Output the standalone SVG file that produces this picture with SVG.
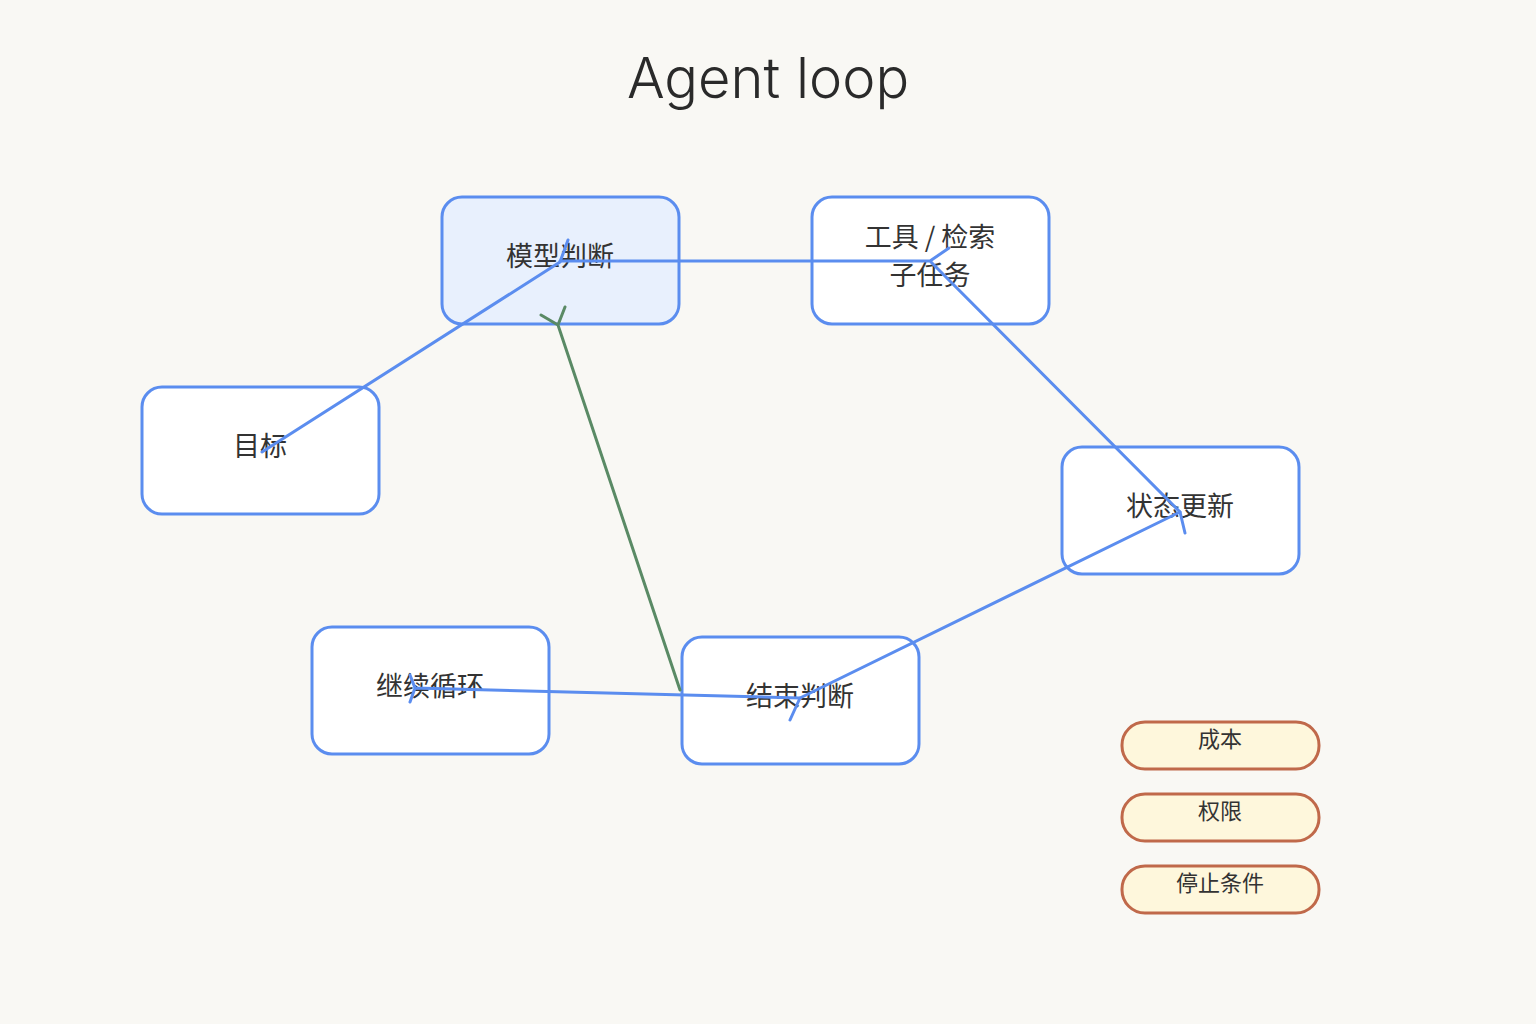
<svg xmlns="http://www.w3.org/2000/svg" width="1536" height="1024" viewBox="0 0 1536 1024">
<style>
.n{fill:#fff;stroke:#5b8def;stroke-width:3}
.t{font-family:"Noto Sans CJK SC","Liberation Sans",sans-serif;font-size:27px;fill:#333;text-anchor:middle}
.p{fill:#fef7dc;stroke:#c0694a;stroke-width:3}
.pt{font-family:"Noto Sans CJK SC","Liberation Sans",sans-serif;font-size:22px;fill:#333;text-anchor:middle}
.c{fill:none;stroke:#5b8def;stroke-width:3;stroke-linecap:round}
.g{fill:none;stroke:#5a8a65;stroke-width:3;stroke-linecap:round}
</style>
<rect width="1536" height="1024" fill="#f9f8f4"/>
<text x="768" y="98" font-family="Inter,'Liberation Sans',sans-serif" font-weight="300" font-size="56" fill="#2a2a2a" text-anchor="middle">Agent loop</text>
<g id="n-model"><rect class="n" x="442" y="197" width="237" height="127" rx="20" style="fill:#e8f0fd"/><text class="t" x="560" y="266">模型判断</text></g>
<g id="n-tool"><rect class="n" x="812" y="197" width="237" height="127" rx="20"/><text class="t" x="930" y="247">工具 / 检索</text><text class="t" x="930" y="285">子任务</text></g>
<g id="n-goal"><rect class="n" x="142" y="387" width="237" height="127" rx="20"/><text class="t" x="260" y="456">目标</text></g>
<g id="n-state"><rect class="n" x="1062" y="447" width="237" height="127" rx="20"/><text class="t" x="1180" y="516">状态更新</text></g>
<g id="n-cont"><rect class="n" x="312" y="627" width="237" height="127" rx="20"/><text class="t" x="430" y="696">继续循环</text></g>
<g id="n-end"><rect class="n" x="682" y="637" width="237" height="127" rx="20"/><text class="t" x="800" y="706">结束判断</text></g>
<g id="n-cost"><rect class="p" x="1122" y="722" width="197" height="47" rx="23"/><text class="pt" x="1220" y="747">成本</text></g>
<g id="n-perm"><rect class="p" x="1122" y="794" width="197" height="47" rx="23"/><text class="pt" x="1220" y="819">权限</text></g>
<g id="n-stop"><rect class="p" x="1122" y="866" width="197" height="47" rx="23"/><text class="pt" x="1220" y="891">停止条件</text></g>
<g id="connectors">
<path class="c" d="M262 452 L560 262 L568 240"/>
<path class="c" d="M560 261 L930 261 L949 248 M930 261 L1180 512 L1185 533"/>
<path class="c" d="M1180 512 L800 698 L790 720"/>
<path class="c" d="M800 698 L415 688 L410 675 M415 688 L410 702"/>
<path class="g" d="M680 690 L558 325 L541 315 M558 325 L565 307"/>
</g>
</svg>
